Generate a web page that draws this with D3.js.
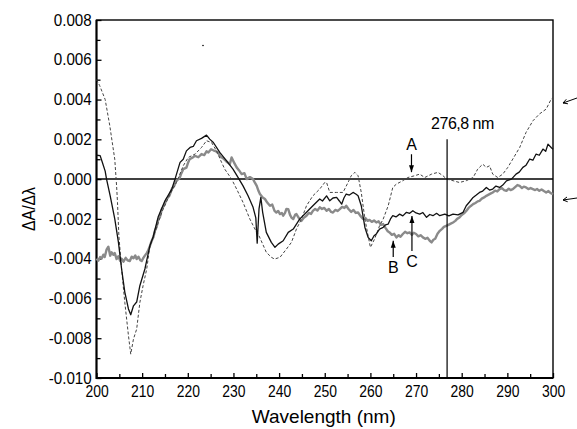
<!DOCTYPE html>
<html>
<head>
<meta charset="utf-8">
<script src="https://cdn.jsdelivr.net/npm/d3@7"></script>
<style>
	body{margin:0;background:#fff;}
	svg{display:block;font-family:"Liberation Sans",Arial,sans-serif;}
</style>
</head>
<body>
<svg id="chart" width="577" height="429"></svg>
<script>
// curve A (dashed), wavelength nm / dA/dlambda
const curveA = [[200.0,0.00500],[200.7,0.00470],[201.9,0.00400],[202.9,0.00270],[204.0,0.00100],[204.4,-0.00034],[204.6,-0.00117],[204.9,-0.00285],[205.5,-0.00452],[206.2,-0.00620],[207.0,-0.00787],[207.5,-0.00880],[208.1,-0.00804],[208.8,-0.00754],[209.5,-0.00620],[210.2,-0.00536],[211.0,-0.00452],[211.7,-0.00335],[212.8,-0.00268],[214.3,-0.00167],[216.1,-0.00075],[217.5,-0.00017],[218.0,0.00010],[219.0,0.00067],[220.1,0.00109],[221.6,0.00126],[223.0,0.00159],[224.1,0.00193],[225.2,0.00184],[226.3,0.00142],[227.4,0.00084],[228.1,0.00050],[229.6,0.00000],[230.7,-0.00050],[232.1,-0.00117],[233.6,-0.00201],[234.7,-0.00251],[235.6,-0.00285],[237.2,-0.00368],[238.3,-0.00393],[239.0,-0.00402],[240.2,-0.00393],[241.6,-0.00352],[242.7,-0.00318],[243.8,-0.00251],[244.9,-0.00201],[246.0,-0.00134],[247.4,-0.00084],[248.9,-0.00050],[250.0,-0.00017],[250.4,-0.00017],[251.1,-0.00067],[252.6,-0.00067],[254.0,-0.00067],[255.1,-0.00017],[255.8,0.00017],[256.6,0.00034],[257.3,0.00017],[258.0,-0.00067],[258.8,-0.00201],[259.5,-0.00285],[260.0,-0.00343],[260.9,-0.00302],[262.0,-0.00235],[262.8,-0.00201],[263.9,-0.00134],[264.9,-0.00042],[265.7,-0.00025],[267.1,-0.00008],[268.2,0.00008],[269.7,0.00017],[270.8,0.00025],[271.9,0.00008],[273.4,0.00025],[274.8,0.00034],[275.9,0.00017],[276.7,0.00000],[278.1,-0.00008],[279.5,-0.00017],[281.0,-0.00008],[282.5,0.00008],[283.5,0.00050],[284.6,0.00075],[285.4,0.00059],[286.1,0.00067],[286.8,0.00025],[287.9,0.00008],[289.0,0.00025],[290.1,0.00059],[291.2,0.00101],[292.7,0.00159],[294.1,0.00235],[295.6,0.00293],[297.0,0.00327],[298.5,0.00352],[299.6,0.00402],[300.0,0.00410]];

// curve B (thick grey, noisy)
const curveB = [[200.0,-0.00400],[200.4,-0.00410],[200.8,-0.00392],[201.1,-0.00400],[201.5,-0.00380],[201.8,-0.00392],[202.2,-0.00355],[202.6,-0.00340],[203.0,-0.00385],[203.3,-0.00368],[203.7,-0.00380],[204.0,-0.00372],[204.4,-0.00402],[204.8,-0.00388],[205.2,-0.00412],[205.5,-0.00400],[205.9,-0.00415],[206.4,-0.00396],[206.8,-0.00408],[207.3,-0.00412],[207.7,-0.00390],[208.1,-0.00398],[208.5,-0.00384],[208.8,-0.00402],[209.2,-0.00390],[209.6,-0.00408],[209.9,-0.00412],[210.3,-0.00395],[210.6,-0.00385],[211.0,-0.00372],[211.3,-0.00360],[211.7,-0.00336],[212.1,-0.00310],[212.5,-0.00290],[212.8,-0.00260],[213.2,-0.00238],[213.5,-0.00205],[213.9,-0.00190],[214.3,-0.00151],[214.8,-0.00132],[215.4,-0.00100],[216.0,-0.00082],[216.5,-0.00050],[217.0,-0.00035],[217.5,-0.00008],[218.2,0.00005],[218.6,0.00030],[219.0,0.00050],[219.7,0.00058],[220.1,0.00085],[220.4,0.00100],[221.0,0.00108],[221.6,0.00117],[222.3,0.00110],[223.0,0.00126],[223.6,0.00121],[224.1,0.00140],[224.5,0.00134],[225.1,0.00150],[225.6,0.00145],[226.2,0.00140],[226.7,0.00130],[227.2,0.00112],[227.7,0.00105],[228.4,0.00090],[229.2,0.00075],[229.6,0.00109],[230.2,0.00080],[230.7,0.00059],[231.2,0.00045],[231.8,0.00025],[232.4,0.00030],[232.9,0.00000],[233.6,0.00010],[234.3,0.00000],[234.7,-0.00018],[235.1,-0.00034],[235.5,-0.00060],[235.8,-0.00075],[236.4,-0.00092],[236.9,-0.00100],[237.4,-0.00118],[238.0,-0.00134],[238.5,-0.00128],[239.0,-0.00160],[239.4,-0.00168],[239.8,-0.00160],[240.2,-0.00176],[240.6,-0.00170],[240.9,-0.00184],[241.3,-0.00170],[241.6,-0.00150],[242.0,-0.00151],[242.4,-0.00180],[242.7,-0.00193],[243.1,-0.00201],[243.5,-0.00180],[243.8,-0.00176],[244.3,-0.00195],[244.9,-0.00210],[245.4,-0.00195],[246.0,-0.00184],[246.5,-0.00170],[247.0,-0.00175],[247.4,-0.00160],[247.9,-0.00150],[248.4,-0.00158],[248.9,-0.00142],[249.4,-0.00150],[249.9,-0.00145],[250.4,-0.00159],[250.9,-0.00150],[251.4,-0.00165],[251.8,-0.00168],[252.3,-0.00155],[252.8,-0.00160],[253.3,-0.00151],[253.8,-0.00140],[254.3,-0.00145],[254.7,-0.00134],[255.2,-0.00150],[255.8,-0.00165],[256.3,-0.00155],[256.8,-0.00170],[257.3,-0.00168],[257.8,-0.00185],[258.4,-0.00201],[258.9,-0.00196],[259.4,-0.00210],[259.8,-0.00205],[260.3,-0.00215],[260.8,-0.00208],[261.3,-0.00218],[261.8,-0.00212],[262.3,-0.00230],[262.8,-0.00226],[263.3,-0.00245],[263.8,-0.00262],[264.2,-0.00268],[264.7,-0.00280],[265.2,-0.00275],[265.7,-0.00293],[266.2,-0.00282],[266.6,-0.00290],[267.1,-0.00276],[267.6,-0.00265],[268.1,-0.00272],[268.6,-0.00268],[269.1,-0.00280],[269.5,-0.00270],[270.0,-0.00276],[270.5,-0.00288],[271.0,-0.00282],[271.5,-0.00293],[272.0,-0.00300],[272.5,-0.00295],[273.0,-0.00310],[273.4,-0.00318],[273.8,-0.00305],[274.2,-0.00300],[274.7,-0.00275],[275.2,-0.00260],[275.7,-0.00250],[276.1,-0.00240],[276.6,-0.00235],[277.1,-0.00230],[277.6,-0.00224],[278.1,-0.00218],[278.6,-0.00210],[279.0,-0.00200],[279.5,-0.00193],[280.0,-0.00180],[280.5,-0.00172],[281.0,-0.00160],[281.5,-0.00145],[282.0,-0.00135],[282.5,-0.00126],[283.0,-0.00120],[283.5,-0.00112],[283.9,-0.00109],[284.4,-0.00098],[284.9,-0.00092],[285.4,-0.00084],[285.9,-0.00078],[286.4,-0.00072],[286.8,-0.00067],[287.3,-0.00058],[287.8,-0.00062],[288.3,-0.00050],[288.8,-0.00045],[289.3,-0.00055],[289.8,-0.00059],[290.3,-0.00048],[290.7,-0.00055],[291.2,-0.00050],[291.7,-0.00040],[292.2,-0.00030],[292.7,-0.00034],[293.2,-0.00045],[293.6,-0.00038],[294.1,-0.00042],[294.6,-0.00050],[295.1,-0.00045],[295.6,-0.00050],[296.1,-0.00055],[296.5,-0.00050],[297.0,-0.00059],[297.5,-0.00052],[298.0,-0.00060],[298.5,-0.00067],[299.0,-0.00060],[299.5,-0.00070],[300.0,-0.00075]];

// curve C (solid black)
const curveC = [[200.0,0.00120],[200.8,0.00118],[201.2,0.00090],[201.9,0.00040],[202.2,0.00000],[203.0,-0.00084],[204.0,-0.00200],[204.8,-0.00317],[205.5,-0.00452],[206.2,-0.00568],[207.0,-0.00653],[207.5,-0.00682],[208.1,-0.00637],[208.8,-0.00618],[209.5,-0.00536],[210.6,-0.00452],[211.7,-0.00335],[212.4,-0.00291],[213.5,-0.00191],[215.0,-0.00109],[216.5,-0.00050],[217.2,0.00000],[218.3,0.00084],[219.0,0.00100],[219.7,0.00142],[220.5,0.00159],[221.2,0.00164],[221.9,0.00193],[223.0,0.00205],[224.1,0.00221],[224.8,0.00201],[225.6,0.00184],[227.0,0.00134],[228.5,0.00092],[229.9,0.00050],[231.0,0.00009],[232.1,-0.00034],[233.2,-0.00084],[234.3,-0.00142],[234.9,-0.00195],[235.2,-0.00322],[235.6,-0.00150],[236.0,-0.00092],[236.4,-0.00167],[237.2,-0.00268],[238.3,-0.00318],[239.1,-0.00343],[239.8,-0.00327],[240.9,-0.00310],[242.0,-0.00268],[243.1,-0.00251],[244.5,-0.00201],[246.0,-0.00167],[247.4,-0.00134],[248.9,-0.00100],[249.5,-0.00110],[250.4,-0.00084],[251.1,-0.00109],[251.8,-0.00095],[252.6,-0.00092],[253.2,-0.00110],[253.7,-0.00126],[254.2,-0.00095],[254.7,-0.00075],[255.4,-0.00080],[256.2,-0.00067],[256.8,-0.00075],[257.3,-0.00084],[258.0,-0.00134],[258.8,-0.00243],[259.5,-0.00293],[260.2,-0.00310],[260.8,-0.00285],[261.3,-0.00276],[262.0,-0.00251],[262.8,-0.00243],[263.3,-0.00230],[263.9,-0.00226],[264.4,-0.00200],[264.9,-0.00184],[265.6,-0.00190],[266.4,-0.00176],[267.1,-0.00185],[267.9,-0.00167],[268.6,-0.00172],[269.3,-0.00159],[270.0,-0.00170],[270.8,-0.00176],[271.5,-0.00168],[272.3,-0.00192],[273.0,-0.00178],[273.7,-0.00184],[274.5,-0.00172],[275.2,-0.00184],[276.3,-0.00176],[277.2,-0.00185],[278.1,-0.00176],[279.2,-0.00180],[280.3,-0.00167],[281.0,-0.00134],[281.7,-0.00115],[282.5,-0.00092],[283.2,-0.00080],[283.9,-0.00067],[284.6,-0.00060],[285.4,-0.00042],[286.1,-0.00055],[286.8,-0.00050],[287.5,-0.00035],[288.3,-0.00042],[289.0,-0.00030],[289.8,-0.00009],[290.9,0.00000],[291.9,0.00025],[292.6,0.00035],[293.4,0.00059],[294.1,0.00070],[294.9,0.00101],[295.6,0.00095],[296.3,0.00126],[297.0,0.00120],[297.8,0.00151],[298.4,0.00140],[298.9,0.00176],[299.6,0.00159],[300.0,0.00150]];

const xTicks = [200,210,220,230,240,250,260,270,280,290,300];
const xMinor = [205,215,225,235,245,255,265,275,285,295];
const yTicks = [-0.010,-0.008,-0.006,-0.004,-0.002,0.000,0.002,0.004,0.006,0.008];
const yMinor = [-0.009,-0.007,-0.005,-0.003,-0.001,0.001,0.003,0.005,0.007];
const markerWl = 276.8;
const markerLabel = '276,8 nm';
// letter, wavelength of arrow, value at arrow tip, value at arrow tail, direction
const curveLabels = [
	{text:'A', wl:269.0, tip:0.00035, tail:0.00125, down:true},
	{text:'B', wl:265.0, tip:-0.00310, tail:-0.00392, down:false},
	{text:'C', wl:269.1, tip:-0.00185, tail:-0.00362, down:false}
];

const svg = d3.select('#chart');
const pLeft = 96.5, pRight = 553, pTop = 20, pBottom = 378;

const x = d3.scaleLinear().domain([200,300]).range([pLeft,pRight]);
const y = d3.scaleLinear().domain([-0.010,0.008]).range([pBottom,pTop]);

const fmt = d => d3.format('.3f')(d).replace('\u2212','-');

// minor ticks
svg.append('g')
	.attr('transform','translate('+pLeft+',0)')
	.call(d3.axisLeft(y).tickValues(yMinor).tickSize(-4).tickFormat(''))
	.call(g=>g.select('.domain').remove())
	.selectAll('line').attr('stroke','#000').attr('stroke-width',1.3);
svg.append('g')
	.attr('transform','translate(0,'+pBottom+')')
	.call(d3.axisBottom(x).tickValues(xMinor).tickSize(-4).tickFormat(''))
	.call(g=>g.select('.domain').remove())
	.selectAll('line').attr('stroke','#000').attr('stroke-width',1.3);

// major ticks + labels
const yAxis = svg.append('g')
	.attr('transform','translate('+pLeft+',0)')
	.call(d3.axisLeft(y).tickValues(yTicks).tickSize(-5).tickPadding(5).tickFormat(fmt))
	.call(g=>g.select('.domain').remove());
yAxis.selectAll('line').attr('stroke','#000').attr('stroke-width',1.3);
yAxis.selectAll('text')
	.attr('fill','#000')
	.style('font-size','16px')
	.attr('transform','scale(0.95,1)');

const xAxis = svg.append('g')
	.attr('transform','translate(0,'+pBottom+')')
	.call(d3.axisBottom(x).tickValues(xTicks).tickSize(-5).tickPadding(7).tickFormat(d3.format('d')))
	.call(g=>g.select('.domain').remove());
xAxis.selectAll('line').attr('stroke','#000').attr('stroke-width',1.3);
xAxis.selectAll('text')
	.attr('fill','#000')
	.style('font-size','17px')
	.attr('transform','scale(0.82,1)');

// frame
svg.append('rect')
	.attr('x',pLeft).attr('y',pTop)
	.attr('width',pRight-pLeft).attr('height',pBottom-pTop)
	.attr('fill','none').attr('stroke','#000').attr('stroke-width',1.4);
svg.append('path')
	.attr('d','M'+pLeft+','+pTop+'V'+pBottom+'H'+pRight)
	.attr('fill','none').attr('stroke','#000').attr('stroke-width',2);

// zero line
svg.append('line')
	.attr('x1',pLeft).attr('x2',pRight)
	.attr('y1',y(0)).attr('y2',y(0))
	.attr('stroke','#000').attr('stroke-width',1.5);

const line = d3.line().x(d=>x(d[0])).y(d=>y(d[1]));

svg.append('path').datum(curveB)
	.attr('d',line)
	.attr('fill','none').attr('stroke','#8a8a8a').attr('stroke-width',2.4)
	.attr('stroke-linejoin','round');
svg.append('path').datum(curveA)
	.attr('d',line)
	.attr('fill','none').attr('stroke','#444').attr('stroke-width',1)
	.attr('stroke-dasharray','3,2');
svg.append('path').datum(curveC)
	.attr('d',line)
	.attr('fill','none').attr('stroke','#111').attr('stroke-width',1.3)
	.attr('stroke-linejoin','round');

// marker line at 276.8 nm
svg.append('line')
	.attr('x1',x(markerWl)).attr('x2',x(markerWl))
	.attr('y1',y(0.0020)).attr('y2',pBottom)
	.attr('stroke','#000').attr('stroke-width',1.2);
svg.append('text')
	.attr('x',x(markerWl)-16).attr('y',y(0.0025))
	.style('font-size','16px').style('letter-spacing','-0.5px')
	.text(markerLabel);

// A, B, C arrows
const arrowHead = (cx,cy,down)=>{
	const s = down ? -1 : 1;
	return 'M'+cx+','+cy+'L'+(cx-2.5)+','+(cy+s*7)+'L'+(cx+2.5)+','+(cy+s*7)+'Z';
};
curveLabels.forEach(c=>{
	const cx = x(c.wl);
	svg.append('line')
		.attr('x1',cx).attr('x2',cx)
		.attr('y1',y(c.tail)).attr('y2',y(c.tip))
		.attr('stroke','#000').attr('stroke-width',1.2);
	svg.append('path')
		.attr('d',arrowHead(cx,y(c.tip),c.down))
		.attr('fill','#000');
	svg.append('text')
		.attr('x',cx)
		.attr('y',c.down ? y(c.tail)-4 : y(c.tail)+16)
		.attr('text-anchor','middle')
		.style('font-size','16px')
		.text(c.text);
});

// arrows in the right margin
const margArrows = [[577,98,563,103],[577,198,563,200]];
margArrows.forEach(a=>{
	const ang = Math.atan2(a[3]-a[1],a[2]-a[0]);
	const h = 5;
	svg.append('path')
		.attr('d','M'+a[0]+','+a[1]+'L'+a[2]+','+a[3]
			+'M'+(a[2]-h*Math.cos(ang-0.5))+','+(a[3]-h*Math.sin(ang-0.5))+'L'+a[2]+','+a[3]
			+'L'+(a[2]-h*Math.cos(ang+0.5))+','+(a[3]-h*Math.sin(ang+0.5)))
		.attr('fill','none').attr('stroke','#000').attr('stroke-width',1);
});

// axis titles
svg.append('text')
	.attr('x',(pLeft+pRight)/2-1).attr('y',423)
	.attr('text-anchor','middle')
	.style('font-size','19px')
	.text('Wavelength (nm)');
svg.append('text')
	.attr('transform','translate(35,209) rotate(-90) scale(0.88,1)')
	.attr('text-anchor','middle')
	.style('font-size','18px')
	.text('ΔA/Δλ');

// small speck in the scan
svg.append('circle').attr('cx',203).attr('cy',45.5).attr('r',0.8).attr('fill','#000');
</script>
</body>
</html>
